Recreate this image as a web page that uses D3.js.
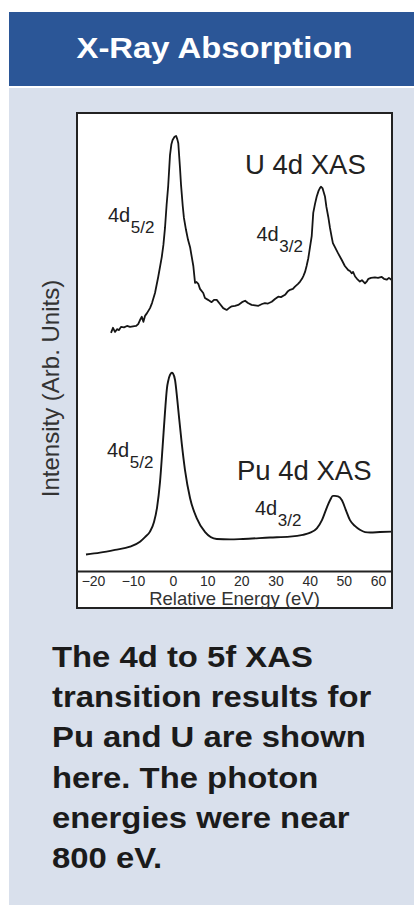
<!DOCTYPE html>
<html>
<head>
<meta charset="utf-8">
<script src="https://cdn.jsdelivr.net/npm/d3@7"></script>
<style>
  body { margin: 0; background: #fff; }
  svg { display: block; }
</style>
</head>
<body>
<svg id="chart" width="414" height="905"></svg>
<script>
// Relative energy (eV) tick labels shown under the plot
const energyTicks = [-20, -10, 0, 10, 20, 30, 40, 50, 60];

// Pu 4d XAS spectrum
const puEnergy = [-21.75, -18.25, -14.5, -10.75, -8.25, -7.0, -5.75, -4.75, -4.0, -3.25,
  -2.6, -2.0, -1.5, -1.2, -0.75, -0.3, 0, 0.6, 1.2, 1.55,
  2.55, 3.5, 5.0, 6.9, 9.4, 12.8, 16.7, 20.5, 28.4, 34.2,
  38.0, 40.0, 42.1, 43.6, 45.0, 46.0, 46.8, 47.4, 48.3, 49.4,
  50.6, 51.8, 53.3, 54.7, 56.2, 57.7, 60.6, 64.1];
const puIntensity = [3.6, 4.0, 4.6, 5.3, 6.4, 7.4, 8.6, 10.7, 13.8, 19.4,
  27.1, 34.7, 40.0, 41.5, 42.8, 43.3, 43.1, 41.7, 37.8, 35.2,
  27.9, 22.1, 15.9, 11.6, 8.5, 7.0, 6.9, 7.0, 7.3, 7.5,
  7.9, 8.3, 9.3, 11.1, 13.8, 15.5, 16.4, 16.4, 16.3, 15.5,
  13.3, 11.1, 9.8, 9.0, 8.5, 8.4, 8.5, 8.6];

// U 4d XAS spectrum (measured, noisy)
const uEnergy = [-15.5, -15.0, -14.5, -14.0, -13.5, -13.0, -12.25, -11.5, -10.75, -10.0,
  -9.25, -8.7, -8.25, -7.8, -7.4, -7.0, -6.5, -5.75, -5.25, -4.5,
  -3.7, -2.8, -2.4, -2.0, -1.6, -1.2, -0.75, -0.4, -0.1, 0.45,
  0.9, 1.25, 1.55, 2.05, 2.35, 2.85, 3.2, 3.8, 4.4, 5.0,
  5.55, 5.95, 6.45, 6.9, 7.4, 7.9, 8.85, 9.35, 10.25, 11.3,
  12.0, 12.8, 13.75, 14.7, 15.7, 16.4, 17.2, 18.15, 19.1, 20.2,
  21.1, 21.95, 23.0, 24.0, 25.0, 26.05, 26.9, 27.8, 28.9, 29.85,
  30.8, 31.6, 32.8, 33.65, 34.25, 35.1, 35.7, 36.6, 37.2, 37.75,
  38.15, 38.65, 39.1, 39.6, 40.1, 40.6, 41.05, 41.55, 42.05, 42.6,
  43.0, 43.3, 43.75, 44.5, 44.9, 45.45, 45.95, 46.45, 46.8, 47.4,
  48.3, 49.4, 50.3, 51.3, 51.8, 52.3, 52.7, 53.3, 53.85, 54.7,
  55.3, 56.2, 56.8, 57.2, 57.95, 59.1, 60.0, 61.1, 61.75, 62.55,
  63.2, 64.1];
const uIntensity = [52.0, 53.1, 52.2, 52.8, 52.6, 53.3, 53.2, 53.5, 53.3, 53.4,
  53.5, 53.9, 54.8, 55.5, 54.4, 55.7, 56.3, 57.4, 58.5, 60.7,
  64.2, 68.6, 71.2, 74.9, 79.9, 84.1, 90.8, 93.2, 94.1, 94.8,
  95.0, 94.3, 93.4, 88.0, 84.3, 79.7, 77.1, 74.5, 72.3, 70.7,
  68.3, 66.6, 62.9, 63.1, 62.7, 61.6, 60.7, 59.6, 59.2, 58.7,
  59.2, 59.2, 58.3, 57.4, 57.0, 57.4, 57.8, 57.9, 58.1, 58.7,
  59.0, 58.5, 58.1, 58.0, 57.9, 58.3, 58.5, 58.4, 58.8, 59.4,
  59.9, 59.8, 60.3, 61.1, 61.4, 61.6, 62.1, 62.7, 63.2, 63.8,
  64.4, 65.3, 66.6, 68.3, 70.7, 73.1, 78.2, 80.1, 81.7, 83.0,
  83.6, 83.9, 83.6, 81.7, 79.5, 77.3, 74.9, 72.9, 71.6, 70.7,
  69.4, 67.9, 66.6, 65.7, 65.5, 65.0, 65.3, 64.3, 63.8, 63.2,
  63.5, 62.8, 63.3, 63.8, 64.0, 64.1, 64.0, 64.2, 63.8, 63.6,
  64.0, 63.5];

const panelTitle = "X-Ray Absorption";
const xTitle = "Relative Energy (eV)";
const yTitle = "Intensity (Arb. Units)";
const captionLines = [
  "The 4d to 5f XAS",
  "transition results for",
  "Pu and U are shown",
  "here. The photon",
  "energies were near",
  "800 eV."
];

const FONT = "'Liberation Sans', Arial, Helvetica, sans-serif";
const svg = d3.select("#chart");

// ---- panel background and title banner
svg.append("rect").attr("x", 9).attr("y", 88).attr("width", 405).attr("height", 817)
  .attr("fill", "#d9e0ec");
svg.append("rect").attr("x", 9).attr("y", 12).attr("width", 405).attr("height", 74)
  .attr("fill", "#2b5697");
svg.append("text")
  .attr("transform", "translate(214.5,57.5) scale(1.095,1)")
  .attr("text-anchor", "middle")
  .attr("font-family", FONT).attr("font-weight", "bold").attr("font-size", 30)
  .attr("fill", "#fff")
  .text(panelTitle);

// ---- plot frame geometry
const box = { left: 77, right: 392, top: 113, axis: 571, bottom: 608 };

svg.append("rect")
  .attr("x", box.left).attr("y", box.top)
  .attr("width", box.right - box.left).attr("height", box.bottom - box.top)
  .attr("fill", "#fff");

// energy axis: the printed tick spacing is wider below 0 eV than above it
const x = d3.scaleLinear().domain([-24, 0, 64.1]).range([box.left, 173, box.right]);
const y = d3.scaleLinear().domain([0, 100]).range([box.axis, box.top]);

svg.append("clipPath").attr("id", "plotClip")
  .append("rect").attr("x", box.left).attr("y", box.top)
  .attr("width", box.right - box.left).attr("height", box.axis - box.top);

const line = d3.line().x(d => x(d[0])).y(d => y(d[1]));

const plot = svg.append("g").attr("clip-path", "url(#plotClip)");

plot.append("path")
  .datum(puEnergy.map((e, i) => [e, puIntensity[i]]))
  .attr("d", line.curve(d3.curveMonotoneX))
  .attr("fill", "none").attr("stroke", "#151515").attr("stroke-width", 1.9)
  .attr("stroke-linejoin", "round");

plot.append("path")
  .datum(uEnergy.map((e, i) => [e, uIntensity[i]]))
  .attr("d", line.curve(d3.curveLinear))
  .attr("fill", "none").attr("stroke", "#151515").attr("stroke-width", 1.8)
  .attr("stroke-linejoin", "round");

// bottom axis with labels only
const axis = svg.append("g")
  .attr("transform", `translate(0,${box.axis})`)
  .call(d3.axisBottom(x).tickValues(energyTicks).tickSize(0).tickPadding(5).tickSizeOuter(0));
axis.select(".domain").attr("stroke", "#222").attr("stroke-width", 2);
axis.selectAll("text")
  .attr("font-family", FONT).attr("font-size", 14).attr("fill", "#2a2a2a");

// outer frame
svg.append("rect")
  .attr("x", box.left).attr("y", box.top)
  .attr("width", box.right - box.left).attr("height", box.bottom - box.top)
  .attr("fill", "none").attr("stroke", "#222").attr("stroke-width", 2);

// axis titles
svg.append("text")
  .attr("x", (box.left + box.right) / 2).attr("y", 605)
  .attr("text-anchor", "middle")
  .attr("font-family", FONT).attr("font-size", 18.5).attr("fill", "#333")
  .text(xTitle);

svg.append("text")
  .attr("transform", "translate(59,388.5) rotate(-90)")
  .attr("text-anchor", "middle")
  .attr("font-family", FONT).attr("font-size", 24).attr("fill", "#333")
  .text(yTitle);

// spectrum names
svg.append("text").attr("x", 245).attr("y", 173.5)
  .attr("font-family", FONT).attr("font-size", 27.5).attr("fill", "#222")
  .text("U 4d XAS");
svg.append("text").attr("x", 237).attr("y", 480)
  .attr("font-family", FONT).attr("font-size", 27.5).attr("fill", "#222")
  .text("Pu 4d XAS");

// peak labels with subscripted j values
function peakLabel(px, py, sub) {
  const t = svg.append("text").attr("x", px).attr("y", py)
    .attr("font-family", FONT).attr("font-size", 20).attr("fill", "#222");
  t.append("tspan").text("4d");
  t.append("tspan").attr("dx", 0.5).attr("dy", 11).attr("font-size", 17).text(sub);
}
peakLabel(108, 221.7, "5/2");
peakLabel(256.5, 240.5, "3/2");
peakLabel(107, 457, "5/2");
peakLabel(255, 515, "3/2");

// caption
const cap = svg.append("g").attr("transform", "translate(52,0) scale(1.095,1)");
captionLines.forEach((s, i) => {
  cap.append("text")
    .attr("x", 0).attr("y", 666.7 + i * 40.3)
    .attr("font-family", FONT).attr("font-weight", "bold").attr("font-size", 30)
    .attr("fill", "#1b1b1b")
    .text(s);
});
</script>
</body>
</html>
